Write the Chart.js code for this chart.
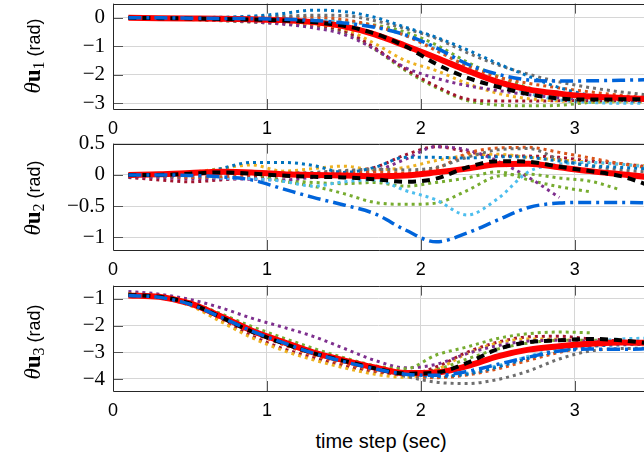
<!DOCTYPE html>
<html>
<head>
<meta charset="utf-8">
<script src="https://cdn.jsdelivr.net/npm/chart.js@4.4.0/dist/chart.umd.min.js"></script>
<style>
  html, body { margin: 0; padding: 0; background: #fff; }
  body { width: 644px; height: 456px; position: relative; overflow: hidden; }
  canvas { position: absolute; left: 0; }
  .ylab {
    position: absolute; white-space: nowrap; line-height: 1; color: #000;
    transform: translate(-50%, -50%) rotate(-90deg);
    font-family: "Liberation Sans", Arial, sans-serif; font-size: 18px;
  }
  .ylab .m { font-family: "Liberation Serif", serif; font-size: 23px; }
  .ylab i { font-weight: normal; }
  .ylab sub { font-size: 16px; vertical-align: -4px; }
  #xlab {
    position: absolute; left: 381px; top: 441px; transform: translate(-50%, -50%);
    font-family: "Liberation Sans", Arial, sans-serif; font-size: 20px; white-space: nowrap;
  }
</style>
</head>
<body>
<canvas id="p1" width="644" height="156" style="top:-17px"></canvas>
<canvas id="p2" width="644" height="157" style="top:123px"></canvas>
<canvas id="p3" width="644" height="156" style="top:265px"></canvas>
<div class="ylab" style="left:34px;top:56px"><span class="m"><i>θ</i><b>u</b><sub>1</sub></span> (rad)</div>
<div class="ylab" style="left:34px;top:198px"><span class="m"><i>θ</i><b>u</b><sub>2</sub></span> (rad)</div>
<div class="ylab" style="left:34px;top:342px"><span class="m"><i>θ</i><b>u</b><sub>3</sub></span> (rad)</div>
<div id="xlab">time step (sec)</div>
<script>
// time samples (sec)
const timeSec = [0.1, 0.3, 0.5, 0.7, 0.9, 1.1, 1.3, 1.5, 1.7, 1.9, 2.1, 2.3, 2.5, 2.7, 2.9, 3.1, 3.3, 3.5];
const xTicks = [0, 1, 2, 3];

// theta u1
const u1_red = [0, -0.01, -0.02, -0.03, -0.05, -0.08, -0.15, -0.30, -0.58, -0.98, -1.40, -1.85, -2.25, -2.52, -2.66, -2.76, -2.81, -2.85];
const u1_black = [0, -0.01, -0.02, -0.04, -0.06, -0.09, -0.15, -0.28, -0.55, -1.00, -1.62, -2.10, -2.42, -2.68, -2.83, -2.87, -2.86, -2.85];
const u1_dashdot = [0, 0, -0.01, -0.02, -0.03, -0.05, -0.09, -0.18, -0.33, -0.60, -1.05, -1.62, -1.98, -2.18, -2.22, -2.21, -2.19, -2.17];
const u1_blue = [0, 0, 0.01, 0.02, 0.06, 0.15, 0.27, 0.22, 0.02, -0.33, -0.68, -1.12, -1.60, -2.05, -2.45, -2.72, -2.88, -2.95];
const u1_gray = [0, 0, 0, 0.01, 0.03, 0.06, 0.09, 0.08, -0.10, -0.38, -0.72, -1.22, -1.65, -1.98, -2.25, -2.45, -2.60, -2.72];
const u1_orange = [0, 0, -0.01, -0.01, 0, 0.02, 0.02, -0.06, -0.28, -0.62, -1.15, -1.68, -2.08, -2.30, -2.46, -2.60, -2.72, -2.82];
const u1_lightblue = [0, 0, -0.01, -0.02, -0.03, -0.04, -0.05, -0.12, -0.30, -0.62, -1.10, -1.75, -2.30, -2.65, -2.88, -2.97, -3.00, -3.00];
const u1_green1 = [0, 0, -0.02, -0.04, -0.06, -0.08, -0.10, -0.15, -0.25, -0.50, -0.95, -1.55, -2.05, -2.45, -2.72, -2.85, -2.90, -2.92];
const u1_purple = [0, -0.02, -0.05, -0.09, -0.14, -0.22, -0.35, -0.58, -1.10, -1.75, -2.12, -2.38, -2.55, -2.70, -2.80, -2.85, -2.88, -2.90];
const u1_yellow = [0, -0.02, -0.05, -0.08, -0.12, -0.16, -0.22, -0.38, -0.90, -1.50, -1.85, -2.30, -2.65, -2.84, -2.92, -2.95, -2.95, -2.95];
const u1_darkred = [0, -0.02, -0.05, -0.08, -0.12, -0.16, -0.24, -0.45, -1.05, -1.80, -2.40, -2.85, -2.92, -2.92, -2.91, -2.90, -2.90, -2.90];
const u1_green2 = [0, -0.02, -0.06, -0.10, -0.15, -0.20, -0.28, -0.50, -1.10, -1.85, -2.45, -2.90, -3.06, -3.09, -3.07, -2.97, -2.92, -2.90];

// theta u2
const u2_red = [0, 0.01, 0.03, 0.05, 0.04, 0.01, 0.0, -0.01, -0.02, -0.01, 0.04, 0.10, 0.17, 0.18, 0.12, 0.06, 0.01, -0.04];
const u2_black = [0, 0.0, 0.02, 0.04, 0.02, -0.01, -0.03, -0.04, -0.07, -0.11, -0.06, 0.12, 0.22, 0.21, 0.13, 0.06, -0.02, -0.18];
const u2_dashdot = [0, 0, -0.01, -0.03, -0.08, -0.22, -0.36, -0.48, -0.62, -0.88, -1.07, -0.93, -0.72, -0.52, -0.45, -0.44, -0.44, -0.45];
const u2_blue = [-0.03, -0.02, 0.0, 0.10, 0.20, 0.20, 0.15, 0.04, 0.12, 0.28, 0.28, 0.27, 0.29, 0.28, 0.22, 0.15, 0.12, 0.09];
const u2_gray = [0, 0, 0.01, 0.02, 0.03, 0.03, 0.04, 0.07, 0.09, 0.08, 0.12, 0.28, 0.40, 0.42, 0.25, 0.14, 0.08, 0.04];
const u2_orange = [0, -0.02, -0.04, -0.03, 0.0, 0.01, 0.02, 0.03, 0.05, 0.03, 0.10, 0.34, 0.43, 0.44, 0.36, 0.27, 0.18, 0.10];
const u2_lightblue = [-0.02, -0.02, -0.02, -0.05, -0.06, -0.10, -0.18, -0.11, -0.08, -0.25, -0.40, -0.64, -0.38, 0.05, 0.17, 0.20, 0.17, 0.12];
const u2_green1 = [0.0, 0.02, 0.04, 0.06, 0.02, -0.10, -0.18, -0.30, -0.44, -0.47, -0.45, -0.25, -0.02, 0.01, -0.05, -0.10, -0.24, null];
const u2_purple = [-0.03, -0.04, -0.06, -0.06, -0.07, -0.08, -0.04, 0.0, 0.06, 0.25, 0.45, 0.40, 0.22, -0.04, -0.36, null, null, null];
const u2_yellow = [0, 0.01, 0.04, 0.10, 0.16, 0.06, 0.10, 0.14, 0.08, 0.12, 0.23, 0.31, 0.33, 0.28, 0.24, 0.20, 0.17, 0.14];
const u2_darkred = [-0.04, -0.08, -0.11, -0.08, -0.04, -0.01, 0.02, 0.05, 0.12, 0.32, 0.45, 0.37, 0.30, 0.30, 0.28, 0.22, 0.18, 0.12];
const u2_green2 = [0, 0.02, 0.03, 0.05, 0.0, -0.08, -0.12, -0.14, -0.12, -0.18, -0.12, -0.05, 0.05, -0.08, -0.19, -0.27, null, null];

// theta u3
const u3_red = [-0.87, -0.92, -1.17, -1.65, -2.18, -2.60, -3.00, -3.30, -3.57, -3.78, -3.76, -3.52, -3.15, -2.90, -2.77, -2.68, -2.63, -2.65];
const u3_black = [-0.85, -0.92, -1.17, -1.68, -2.22, -2.65, -3.03, -3.32, -3.60, -3.80, -3.76, -3.40, -2.88, -2.62, -2.55, -2.50, -2.55, -2.68];
const u3_dashdot = [-0.87, -0.94, -1.20, -1.68, -2.20, -2.63, -3.03, -3.35, -3.62, -3.82, -3.86, -3.72, -3.45, -3.18, -2.95, -2.88, -2.89, -2.86];
const u3_blue = [-0.86, -0.93, -1.17, -1.64, -2.15, -2.58, -2.97, -3.30, -3.58, -3.78, -3.90, -3.82, -3.55, -3.22, -2.95, -2.78, -2.72, -2.70];
const u3_gray = [-0.87, -0.95, -1.18, -1.66, -2.18, -2.62, -3.02, -3.35, -3.62, -3.90, -4.12, -4.17, -4.02, -3.70, -3.25, -2.95, -2.86, -2.85];
const u3_orange = [-0.87, -0.95, -1.20, -1.70, -2.25, -2.70, -3.10, -3.42, -3.68, -3.88, -3.95, -3.85, -3.62, -3.30, -3.00, -2.78, -2.66, -2.62];
const u3_lightblue = [-0.87, -0.94, -1.18, -1.62, -2.12, -2.55, -2.95, -3.28, -3.55, -3.78, -3.95, -3.78, -3.50, -3.15, -2.85, -2.62, -2.50, -2.47];
const u3_green1 = [-0.80, -0.88, -1.12, -1.55, -2.03, -2.45, -2.85, -3.20, -3.50, -3.62, -3.10, -2.80, -2.48, -2.30, -2.24, -2.27, null, null];
const u3_purple = [-0.72, -0.82, -1.02, -1.33, -1.72, -2.05, -2.40, -2.85, -3.30, -3.58, -3.45, -3.05, -2.75, -2.58, -2.55, -2.58, -2.62, -2.66];
const u3_yellow = [-0.85, -0.95, -1.25, -1.85, -2.45, -2.92, -3.28, -3.58, -3.82, -3.94, -3.65, -3.05, -2.65, -2.50, -2.52, -2.58, -2.62, -2.66];
const u3_darkred = [-0.85, -0.95, -1.22, -1.78, -2.38, -2.85, -3.20, -3.50, -3.72, -3.84, -3.55, -3.00, -2.62, -2.42, -2.40, -2.50, -2.58, -2.64];
const u3_green2 = [-0.83, -0.92, -1.18, -1.68, -2.22, -2.65, -3.02, -3.35, -3.60, -3.78, -3.65, -3.25, -2.88, -2.65, -2.55, -2.55, -2.58, -2.62];

// line looks, smaller order = drawn on top
const DOT = { width: 3, dash: [3, 4], order: 10 };
const STYLE = {
  blue:      Object.assign({ color: '#0072BD' }, DOT),
  orange:    Object.assign({ color: '#D95319' }, DOT),
  yellow:    Object.assign({ color: '#EDB120' }, DOT),
  purple:    Object.assign({ color: '#7E2F8E' }, DOT),
  green1:    Object.assign({ color: '#77AC30' }, DOT),
  green2:    Object.assign({ color: '#77AC30' }, DOT),
  lightblue: Object.assign({ color: '#4DBEEE' }, DOT),
  darkred:   Object.assign({ color: '#A2142F' }, DOT),
  gray:      Object.assign({ color: '#6E6E6E' }, DOT),
  red:       { color: '#FF0000', width: 6, dash: [], order: 3 },
  black:     { color: '#000000', width: 4, dash: [8, 6], order: 2 },
  dashdot:   { color: '#0064DA', width: 3.5, dash: [13, 5, 3, 5], order: 1 }
};

function buildSets(rows) {
  return rows.map(([key, values]) => {
    const st = STYLE[key];
    return {
      data: timeSec.map((t, i) => ({ x: t, y: values[i] })),
      borderColor: st.color,
      borderWidth: st.width,
      borderDash: st.dash,
      order: st.order,
      pointRadius: 0,
      fill: false,
      spanGaps: false,
      cubicInterpolationMode: 'monotone'
    };
  });
}

function fmt(v) {
  const s = String(Math.abs(Math.round(v * 10) / 10));
  return v < 0 ? '\u2212' + s : s;
}

// frame and inner tick marks, drawn over the lines like the original
const framePlugin = {
  id: 'frame',
  afterDatasetsDraw(chart) {
    const { ctx, chartArea: a, scales } = chart;
    ctx.save();
    ctx.strokeStyle = '#555';
    ctx.lineWidth = 1;
    ctx.beginPath();
    scales.x.ticks.forEach(t => {
      const px = Math.round(scales.x.getPixelForValue(t.value)) + 0.5;
      ctx.moveTo(px, a.bottom); ctx.lineTo(px, a.bottom - 10);
      ctx.moveTo(px, a.top); ctx.lineTo(px, a.top + 10);
    });
    scales.y.ticks.forEach(t => {
      const py = Math.round(scales.y.getPixelForValue(t.value)) + 0.5;
      ctx.moveTo(a.left, py); ctx.lineTo(a.left + 10, py);
    });
    ctx.stroke();
    ctx.strokeStyle = '#262626';
    ctx.beginPath();
    ctx.moveTo(a.right + 2, Math.round(a.top) + 0.5);
    ctx.lineTo(Math.round(a.left) + 0.5, Math.round(a.top) + 0.5);
    ctx.lineTo(Math.round(a.left) + 0.5, Math.round(a.bottom) + 0.5);
    ctx.lineTo(a.right + 2, Math.round(a.bottom) + 0.5);
    ctx.stroke();
    ctx.restore();
  }
};

function makePanel(id, padTop, yMin, yMax, yStep, rows) {
  return new Chart(document.getElementById(id), {
    type: 'line',
    data: { datasets: buildSets(rows) },
    plugins: [framePlugin],
    options: {
      responsive: false,
      animation: false,
      devicePixelRatio: 1,
      layout: { padding: { top: padTop, right: 0, bottom: 0, left: 0 } },
      plugins: { legend: { display: false }, tooltip: { enabled: false } },
      scales: {
        x: {
          type: 'linear', min: 0, max: 3.45,
          afterFit: s => { s.height = 30; },
          grid: { color: '#d6d6d6', drawTicks: false },
          border: { display: false },
          ticks: {
            stepSize: 1, includeBounds: false, padding: 9, maxRotation: 0,
            color: '#000', font: { family: 'Liberation Sans', size: 18 }
          }
        },
        y: {
          min: yMin, max: yMax,
          afterFit: s => { s.width = 113; },
          grid: { color: '#d6d6d6', drawTicks: false },
          border: { display: false },
          ticks: {
            stepSize: yStep, includeBounds: false, padding: 8,
            color: '#000', font: { family: 'Liberation Serif', size: 21 },
            callback: v => fmt(v)
          }
        }
      }
    }
  });
}

makePanel('p1', 20, -3.2, 0.5, 1, [
  ['blue', u1_blue], ['gray', u1_gray], ['orange', u1_orange], ['lightblue', u1_lightblue],
  ['green1', u1_green1], ['purple', u1_purple], ['yellow', u1_yellow], ['darkred', u1_darkred],
  ['green2', u1_green2], ['red', u1_red], ['black', u1_black], ['dashdot', u1_dashdot]
]);

makePanel('p2', 20, -1.2, 0.5, 0.5, [
  ['blue', u2_blue], ['gray', u2_gray], ['orange', u2_orange], ['lightblue', u2_lightblue],
  ['green1', u2_green1], ['purple', u2_purple], ['yellow', u2_yellow], ['darkred', u2_darkred],
  ['green2', u2_green2], ['red', u2_red], ['black', u2_black], ['dashdot', u2_dashdot]
]);

makePanel('p3', 20, -4.45, -0.5, 1, [
  ['blue', u3_blue], ['gray', u3_gray], ['orange', u3_orange], ['lightblue', u3_lightblue],
  ['green1', u3_green1], ['purple', u3_purple], ['yellow', u3_yellow], ['darkred', u3_darkred],
  ['green2', u3_green2], ['red', u3_red], ['black', u3_black], ['dashdot', u3_dashdot]
]);
</script>
</body>
</html>
